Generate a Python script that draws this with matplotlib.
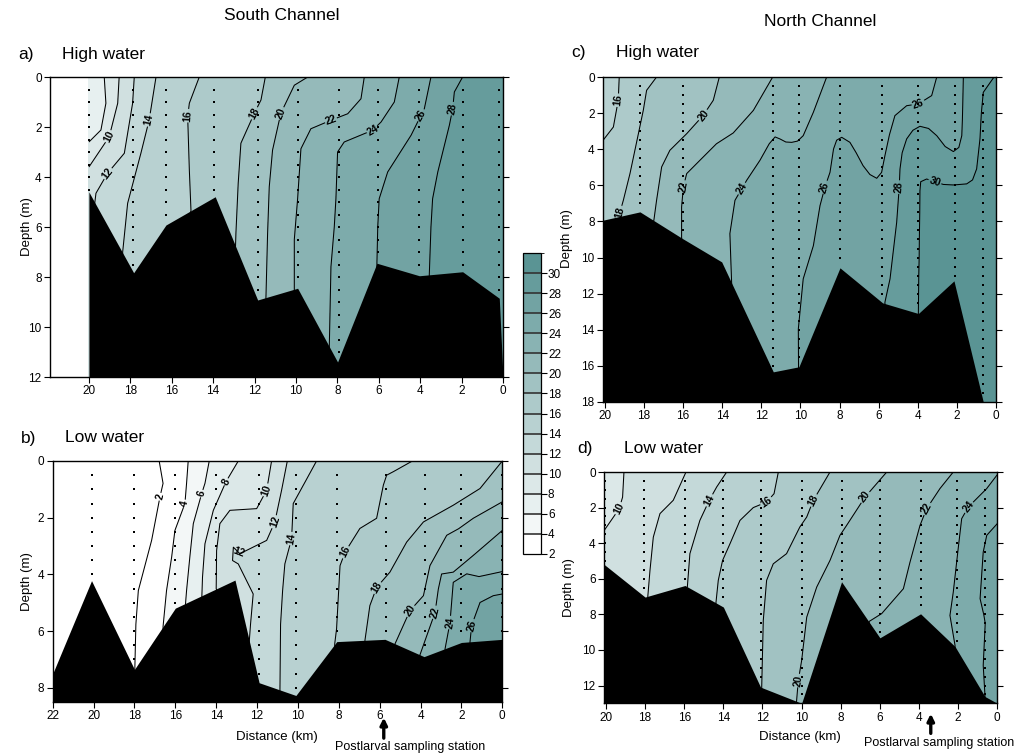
import numpy as np
import matplotlib
matplotlib.use("Agg")
import matplotlib.pyplot as plt
import matplotlib.tri as mtri
from matplotlib.colors import ListedColormap, BoundaryNorm
import matplotlib.colorbar as mcolorbar

plt.rcParams['font.family'] = ['Liberation Sans', 'DejaVu Sans']

# ---------------- DATA ----------------
# Salinity classes used by the colour key
sal_bounds = list(range(2, 34, 2))          # 2 ... 32
sal_ticks = list(range(2, 32, 2))           # 2 ... 30

# ---- a) South Channel, high water ----
a_levels = [8, 10, 12, 14, 16, 18, 20, 22, 24, 26, 28]
a_iso_x = [
    [19.26, 19.18, 19.42, 20.0],
    [18.54, 18.61, 19.02, 20.0],
    [17.81, 17.89, 18.29, 19.1, 19.66, 19.72],
    [16.76, 17.09, 17.49, 18.13, 18.37],
    [14.67, 15.15, 15.23, 15.15, 15.07],
    [11.48, 11.69, 12.01, 12.66, 12.79, 12.9, 12.92],
    [9.43, 10.08, 10.73, 11.13, 11.29, 11.37, 11.45],
    [6.7, 6.86, 7.5, 8.31, 9.28, 9.76, 9.92, 10.08, 10.08],
    [5.01, 5.25, 5.89, 6.3, 7.67, 7.99, 8.07, 8.15, 8.31, 8.39],
    [3.48, 3.8, 3.96, 4.44, 5.57, 5.98, 6.05, 6.09],
    [1.95, 2.35, 2.43, 2.59, 3.15, 3.4, 3.48, 3.56],
]
a_iso_d = [
    [0.0, 1.05, 2.12, 2.6],
    [0.0, 1.05, 2.39, 3.6],
    [0.0, 1.05, 3.05, 3.85, 4.65, 5.05],
    [0.0, 1.72, 3.05, 5.05, 7.0],
    [0.0, 1.05, 1.59, 3.72, 5.35],
    [0.0, 0.92, 1.45, 2.65, 4.25, 6.25, 6.78],
    [0.0, 0.33, 1.45, 2.92, 4.39, 6.25, 8.82],
    [0.0, 0.87, 1.47, 1.73, 2.07, 2.87, 4.87, 6.5, 8.49],
    [0.0, 1.0, 1.8, 2.13, 2.6, 3.0, 4.87, 6.0, 7.59, 10.79],
    [0.0, 1.27, 1.53, 2.33, 3.8, 4.87, 6.0, 7.45],
    [0.0, 0.6, 1.27, 1.93, 3.8, 4.87, 6.0, 7.91],
]
# extra salinity readings (section edges and between isohalines)
a_pt_x = [20.0, 20.0, 20.0, 20.0, 0.0, 0.0, 0.0, 0.0, 8.9, 8.5, 6.0, 4.8, 4.6]
a_pt_d = [0.0, 1.3, 4.6, 12.0, 0.0, 4.0, 8.0, 12.0, 1.0, 3.5, 1.0, 1.5, 4.5]
a_pt_s = [6.6, 7.2, 11.6, 11.6, 29.0, 29.2, 29.4, 29.5, 21.0, 23.0, 23.0, 25.0, 27.0]
a_bed_x = [20.0, 17.84, 16.28, 13.9, 11.85, 9.92, 7.99, 6.09, 4.04, 1.95, 0.18, 0.0]
a_bed_d = [4.6, 7.83, 5.92, 4.79, 8.92, 8.45, 11.4, 7.45, 7.95, 7.79, 8.85, 12.0]
a_stations = [19.98, 17.89, 16.28, 13.95, 11.85, 9.92, 7.91, 6.05, 4.04, 1.95, 0.18]

# ---- b) South Channel, low water ----
b_levels = [2, 4, 6, 8, 10, 12, 14, 16, 18, 20, 22, 24, 26]
b_iso_x = [
    [16.79, 16.6, 16.75, 17.16, 17.81, 17.93, 17.98],
    [15.37, 15.45, 15.53, 16.02, 16.18, 16.43, 16.6],
    [14.34, 14.55, 14.71, 15.12, 15.29, 15.45, 15.5],
    [12.92, 13.52, 14.14, 14.55, 14.67, 14.7],
    [11.29, 11.53, 12.02, 13.33, 13.82, 13.98, 14.0],
    [10.52, 10.8, 11.13, 11.53, 11.86, 12.19, 12.32, 12.38],
    [9.09, 9.62, 10.23, 10.31, 10.64, 10.75, 10.85, 10.88],
    [4.4, 5.34, 5.66, 5.82, 6.15, 6.97, 7.69, 7.94, 8.11, 8.2],
    [0.0, 1.09, 2.4, 3.86, 4.68, 5.5, 6.15, 6.48, 6.72],
    [0.0, 1.42, 2.72, 3.54, 3.86, 4.52, 5.25],
    [0.0, 1.42, 2.4, 3.29, 4.03],
    [0.0, 1.74, 2.4, 2.56, 2.8],
    [0.0, 0.44, 1.09, 1.5, 1.58],
]
b_iso_d = [
    [0.0, 0.79, 1.26, 2.8, 4.57, 5.76, 7.3],
    [0.0, 0.79, 1.5, 2.45, 3.39, 4.57, 5.84],
    [0.0, 0.79, 1.15, 2.21, 3.39, 4.57, 5.03],
    [0.0, 0.73, 1.74, 2.92, 4.1, 4.75],
    [0.0, 1.03, 1.68, 1.74, 2.21, 3.16, 4.5],
    [0.0, 1.03, 2.15, 2.8, 3.87, 4.69, 5.76, 6.35],
    [0.0, 0.7, 1.5, 2.74, 3.63, 4.57, 5.76, 8.07],
    [0.0, 0.38, 0.5, 0.85, 2.02, 2.38, 3.21, 3.69, 5.92, 6.45],
    [0.0, 0.97, 1.56, 2.15, 2.86, 3.92, 4.46, 5.1, 6.32],
    [1.44, 2.02, 2.62, 3.69, 4.75, 5.28, 6.45],
    [2.45, 3.33, 3.92, 5.34, 6.84],
    [3.9, 3.98, 4.28, 5.7, 6.62],
    [4.69, 4.75, 4.99, 5.8, 6.38],
]
b_loop_level = 12
b_loop_x = [13.16, 12.84, 12.92, 13.2]
b_loop_d = [3.04, 3.27, 3.63, 3.51]
b_pt_x = [22.0, 22.0, 20.1, 18.5, 0.0, 0.0, 13.02, 12.5, 12.6, 5.2, 6.8, 3.5, 2.0, 1.0, 0.8]
b_pt_d = [0.0, 8.5, 0.0, 0.0, 6.3, 8.5, 3.35, 0.8, 2.5, 1.5, 1.0, 1.0, 2.8, 4.45, 5.8]
b_pt_s = [0.5, 0.5, 0.8, 1.3, 27.3, 27.5, 12.6, 9.0, 11.0, 17.0, 15.5, 17.0, 21.0, 25.0, 27.0]
b_bed_x = [22.0, 20.1, 18.0, 16.0, 13.08, 11.9, 10.1, 8.1, 5.74, 3.83, 2.0, 0.0]
b_bed_d = [7.5, 4.22, 7.35, 5.19, 4.2, 7.82, 8.27, 6.37, 6.29, 6.9, 6.4, 6.29]
b_stations = [22.0, 20.1, 18.0, 16.0, 14.0, 11.9, 10.1, 8.1, 5.7, 3.8, 2.0, 0.0]

# ---- c) North Channel, high water ----
c_levels = [16, 18, 20, 22, 24, 26, 28, 30]
c_iso_x = [
    [19.27, 19.32, 19.57, 20.1],
    [17.36, 17.87, 18.04, 18.29, 18.72, 19.06, 19.3],
    [14.15, 14.46, 14.97, 15.82, 16.68, 17.1, 17.36, 17.5],
    [11.42, 12.41, 13.44, 14.3, 15.14, 15.82, 15.99, 16.08, 16.08],
    [8.66, 9.34, 9.86, 10.15, 10.45, 10.75, 11.05, 11.3, 11.6, 12.07, 12.75, 13.0,
     13.35, 13.61, 13.52],
    [3.03, 3.29, 3.97, 4.57, 5.17, 5.45, 5.68, 5.85, 6.1, 6.45, 6.8, 7.15, 7.47,
     7.89, 8.15, 8.31, 8.49, 8.75, 9.0, 9.34, 9.86, 10.11, 10.1],
    [1.67, 1.7, 1.72, 1.75, 1.9, 2.18, 2.6, 3.03, 3.45, 3.89, 4.25, 4.57, 4.8,
     4.91, 4.95, 5.08, 5.42, 5.68],
    [0.1, 0.65, 0.75, 0.82, 0.99, 1.2, 1.5, 2.18, 2.7, 3.12, 3.55, 3.85, 3.89,
     3.9, 3.92, 3.93, 3.95, 3.96, 3.97],
]
c_iso_d = [
    [0.0, 1.29, 2.77, 3.51],
    [0.0, 0.74, 1.85, 3.14, 5.35, 6.83, 7.75],
    [0.0, 1.29, 2.12, 3.14, 4.06, 4.98, 6.83, 7.95],
    [0.0, 1.85, 3.1, 3.7, 4.61, 5.35, 6.09, 7.2, 8.9],
    [0.0, 1.95, 3.25, 3.55, 3.62, 3.6, 3.43, 3.32, 3.7, 4.61, 5.72, 6.18,
     6.83, 8.67, 11.44],
    [0.0, 1.03, 1.49, 1.59, 2.14, 3.2, 4.35, 5.28, 5.61, 5.4, 4.91, 4.2, 3.62,
     3.34, 3.5, 3.99, 5.28, 6.1, 7.12, 9.34, 11.18, 13.95, 16.0],
    [0.0, 1.5, 2.4, 3.25, 3.9, 4.13, 3.85, 3.25, 2.85, 2.73, 2.95, 3.43, 4.2,
     5.09, 6.1, 8.05, 11.18, 12.47],
    [0.0, 0.85, 2.0, 3.43, 5.09, 5.7, 5.92, 5.98, 5.95, 5.79, 5.65, 5.8, 6.3,
     7.5, 8.97, 10.0, 11.0, 12.0, 13.03],
]
c_pt_x = [20.1, 20.1, 20.1, 0.0, 0.0, 0.0, 6.0,
          6.4, 6.0, 7.0, 5.6, 4.3, 2.5, 3.3, 2.3, 4.2,
          1.3, 1.4, 2.2, 3.1, 4.3, 2.5, 10.7, 10.6, 13.4, 14.0, 9.0,
          4.4, 3.4, 2.2, 6.1]
c_pt_d = [0.0, 7.9, 18.0, 0.0, 9.0, 18.0, 0.0,
          4.6, 3.2, 3.0, 1.2, 0.7, 2.5, 2.1, 1.2, 2.2,
          2.5, 4.5, 5.0, 4.5, 4.8, 7.5, 2.6, 4.6, 1.5, 6.0, 4.5,
          7.5, 7.0, 3.6, 5.1]
c_pt_s = [15.0, 17.0, 17.0, 30.1, 31.0, 31.2, 25.0,
          25.5, 25.3, 25.2, 25.2, 25.5, 27.2, 27.0, 27.3, 26.8,
          29.0, 29.2, 29.0, 28.8, 28.8, 30.6, 23.3, 24.8, 21.0, 23.0, 25.0,
          29.0, 30.5, 27.6, 25.6]
c_bed_x = [20.1, 18.21, 16.03, 14.03, 11.39, 10.08, 7.98, 5.8, 3.97, 2.15, 0.65, 0.0]
c_bed_d = [7.93, 7.47, 8.95, 10.24, 16.33, 16.05, 10.57, 12.51, 13.1, 11.29, 18.0, 18.0]
c_stations = [20.1, 18.21, 16.03, 11.42, 10.08, 7.98, 5.85, 3.97, 2.1, 0.65]

# ---- d) North Channel, low water ----
d_levels = [10, 12, 14, 16, 18, 20, 22, 24, 26]
d_iso_x = [
    [19.08, 19.15, 19.32, 19.45, 20.1],
    [15.91, 15.96, 16.56, 17.24, 17.58, 17.75, 17.86],
    [13.83, 14.34, 14.72, 15.2, 15.71, 15.84],
    [11.19, 11.41, 11.79, 12.47, 13.15, 13.66, 14.04, 14.26, 14.38],
    [8.55, 9.4, 9.74, 10.09, 10.77, 11.45, 11.79, 11.96, 12.04],
    [5.65, 6.76, 7.7, 8.04, 8.55, 9.23, 9.74, 10.0, 10.17, 10.26],
    [2.25, 2.93, 3.61, 3.95, 4.46, 4.8, 5.91, 6.55],
    [0.0, 0.54, 1.23, 1.48, 1.82, 2.0, 2.25, 2.42, 2.16],
    [0.0, 0.54, 0.72, 0.88, 0.72, 0.63],
]
d_iso_d = [
    [0.0, 1.41, 2.06, 2.72, 3.3],
    [0.0, 0.84, 1.59, 2.34, 3.66, 5.53, 6.98],
    [0.0, 0.84, 1.59, 2.72, 4.59, 6.45],
    [0.0, 1.22, 1.69, 2.0, 2.72, 4.03, 4.97, 6.09, 7.36],
    [0.0, 1.59, 2.53, 3.09, 4.59, 5.16, 6.09, 8.34, 12.1],
    [0.0, 1.41, 3.0, 3.56, 4.97, 6.47, 8.16, 10.6, 11.72, 12.89],
    [0.0, 0.93, 2.06, 3.0, 5.06, 6.56, 7.96, 8.4],
    [0.15, 0.93, 1.69, 1.97, 2.62, 4.31, 6.75, 8.06, 9.75],
    [2.9, 3.56, 4.5, 7.12, 10.87, 12.56],
]
d_pt_x = [20.1, 20.1, 20.1, 0.0, 0.0, 0.0, 12.6, 10.5, 7.5, 4.5, 1.0, 16.5]
d_pt_d = [0.0, 5.19, 13.0, 0.0, 8.0, 13.0, 1.0, 2.0, 1.0, 1.5, 3.5, 3.5]
d_pt_s = [9.0, 10.6, 10.8, 23.9, 26.8, 27.0, 15.0, 17.0, 19.0, 21.0, 25.0, 13.0]
d_bed_x = [20.1, 18.0, 15.96, 14.0, 12.1, 10.0, 7.96, 6.0, 3.92, 2.16, 0.63, 0.0]
d_bed_d = [5.19, 7.03, 6.38, 7.59, 12.09, 13.0, 6.17, 9.32, 7.97, 9.81, 12.62, 13.0]
d_stations = [20.07, 18.07, 15.97, 14.0, 12.1, 10.0, 7.96, 6.0, 3.92, 2.04, 0.63]

# ---------------- STYLE ----------------
W, H = 1016, 755
fig = plt.figure(figsize=(W / 100, H / 100), dpi=100)

def rect(l, t, r, b):
    return [l / W, 1 - b / H, (r - l) / W, (b - t) / H]

c_lo = np.array([255, 255, 255]) / 255
c_hi = np.array([90, 148, 148]) / 255
band_colors = [tuple(c_lo + (c_hi - c_lo) * t) for t in np.linspace(0, 1, len(sal_bounds) - 1)]
fill_levels = [-100] + sal_bounds
fill_colors = ['white'] + band_colors

TICK_FS = 8.5
LAB_FS = 7.5


def section(ax, levs, ix, idp, ex, ed, es, bx, bd, stations, x_left, ymax,
            xticks, yticks, lab_pos, loop=None, loop_lab=None):
    xs, ds, ss = [], [], []
    for lev, xx, dd in zip(levs, ix, idp):
        xs += list(xx); ds += list(dd); ss += [lev] * len(xx)
        # isohaline continued straight down beneath the (hidden) seabed
        if dd[-1] < ymax - 1e-6 and 0.05 < xx[-1] < x_left - 0.05:
            xs.append(xx[-1]); ds.append(ymax); ss.append(lev)
    if loop is not None:
        lev, lx, ld = loop
        xs += list(lx); ds += list(ld); ss += [lev] * len(lx)
    xs += list(ex); ds += list(ed); ss += list(es)
    tri = mtri.Triangulation(np.array(xs), np.array(ds))
    ss = np.array(ss, dtype=float)
    ax.tricontourf(tri, ss, levels=fill_levels, colors=fill_colors, zorder=1)
    cs = ax.tricontour(tri, ss, levels=sorted(set(levs)), colors='k',
                       linewidths=0.75, zorder=2)
    texts = ax.clabel(cs, manual=lab_pos, inline=True, inline_spacing=1,
                      fontsize=LAB_FS, fmt='%d')
    for t in texts:
        t.set_fontweight('bold')
        t.set_zorder(4)
    if loop_lab is not None:
        t2 = ax.clabel(cs, manual=loop_lab, inline=False, fontsize=LAB_FS, fmt='%d')
        for t in t2:
            t.set_fontweight('bold'); t.set_zorder(4)
    # sampling points
    bxr = np.array(bx)[::-1]; bdr = np.array(bd)[::-1]
    for sx in stations:
        zmax = np.interp(sx, bxr, bdr)
        zz = np.arange(0.5, zmax - 0.1, 0.5)
        ax.scatter(np.full_like(zz, sx), zz, s=2.0, marker='s', c='k',
                   linewidths=0, zorder=2.2)
    # seabed
    ax.fill_between(bx, bd, ymax, color='black', linewidth=0, zorder=2.5)
    ax.set_ylim(ymax, 0)
    ax.set_xticks(xticks)
    ax.set_yticks(yticks)
    ax.tick_params(axis='both', direction='out', length=4, width=0.8,
                   labelsize=TICK_FS, pad=2)
    ax.tick_params(axis='y', right=True)
    for s in ax.spines.values():
        s.set_linewidth(1.0)
        s.set_zorder(5)


# a
ax_a = fig.add_axes(rect(50, 77, 503, 377))
section(ax_a, a_levels, a_iso_x, a_iso_d, a_pt_x, a_pt_d, a_pt_s,
        a_bed_x, a_bed_d, a_stations, 20.0, 12.0,
        list(range(0, 21, 2)), list(range(0, 13, 2)),
        [(19.02, 2.39), (19.1, 3.85), (17.09, 1.72), (15.2, 1.55), (12.01, 1.45),
         (10.73, 1.45), (8.31, 1.73), (6.3, 2.13), (3.96, 1.53), (2.43, 1.27)])
ax_a.set_xlim(21.88, 0)

# b
ax_b = fig.add_axes(rect(52.7, 461, 502.3, 702))
section(ax_b, b_levels, b_iso_x, b_iso_d, b_pt_x, b_pt_d, b_pt_s,
        b_bed_x, b_bed_d, b_stations, 22.0, 8.5,
        list(range(0, 23, 2)), list(range(0, 9, 2)),
        [(16.75, 1.26), (15.53, 1.5), (14.71, 1.15), (13.52, 0.73), (11.53, 1.03),
         (11.13, 2.15), (10.31, 2.74), (7.69, 3.21), (6.15, 4.46), (4.52, 5.28),
         (3.29, 5.34), (2.56, 5.7), (1.5, 5.8)],
        loop=(b_loop_level, b_loop_x, b_loop_d), loop_lab=[(13.0, 3.3)])
ax_b.set_xlim(22, 0)

# c
ax_c = fig.add_axes(rect(603, 77, 996, 402))
section(ax_c, c_levels, c_iso_x, c_iso_d, c_pt_x, c_pt_d, c_pt_s,
        c_bed_x, c_bed_d, c_stations, 20.1, 18.0,
        list(range(0, 21, 2)), list(range(0, 19, 2)),
        [(19.32, 1.29), (19.23, 7.5), (14.97, 2.12), (15.99, 6.09), (13.0, 6.18),
         (8.75, 6.1), (3.97, 1.49), (4.95, 6.1), (3.12, 5.79)])
ax_c.set_xlim(20.1, 0)

# d
ax_d = fig.add_axes(rect(604, 472, 997.3, 703.3))
section(ax_d, d_levels, d_iso_x, d_iso_d, d_pt_x, d_pt_d, d_pt_s,
        d_bed_x, d_bed_d, d_stations, 20.1, 13.0,
        list(range(0, 21, 2)), list(range(0, 13, 2)),
        [(19.32, 2.06), (14.72, 1.59), (11.79, 1.69), (9.4, 1.59), (6.76, 1.41),
         (10.17, 11.72), (3.61, 2.06), (1.48, 1.97)])
ax_d.set_xlim(20.1, 0)

# colour key
ax_cb = fig.add_axes(rect(523, 253, 541, 554))
cb = mcolorbar.ColorbarBase(ax_cb, cmap=ListedColormap(band_colors),
                            norm=BoundaryNorm(sal_bounds, len(band_colors)),
                            boundaries=sal_bounds, ticks=sal_ticks,
                            drawedges=True, orientation='vertical')
cb.dividers.set_color('#333333')
cb.dividers.set_linewidth(1.2)
cb.outline.set_linewidth(0.9)
ax_cb.tick_params(labelsize=TICK_FS, length=4, width=0.8, pad=1)

# texts
def ftext(x, y, s, **kw):
    fig.text(x / W, 1 - y / H, s, **kw)

ftext(282, 15, 'South Channel', fontsize=12.5, ha='center', va='center')
ftext(820, 22, 'North Channel', fontsize=12.5, ha='center', va='center')
ftext(18, 55, 'a)', fontsize=12.5, ha='left', va='center')
ftext(62, 55, 'High water', fontsize=12.5, ha='left', va='center')
ftext(21, 438, 'b)', fontsize=12.5, ha='left', va='center')
ftext(65, 438, 'Low water', fontsize=12.5, ha='left', va='center')
ftext(571, 53, 'c)', fontsize=12.5, ha='left', va='center')
ftext(616, 53, 'High water', fontsize=12.5, ha='left', va='center')
ftext(577, 448, 'd)', fontsize=12.5, ha='left', va='center')
ftext(624, 448, 'Low water', fontsize=12.5, ha='left', va='center')
for (x, y) in [(27, 227), (27, 582), (567, 239), (569, 588)]:
    ftext(x, y, 'Depth (m)', fontsize=9.5, rotation=90, ha='center', va='center')
ftext(277, 737, 'Distance (km)', fontsize=9.5, ha='center', va='center')
ftext(800, 737, 'Distance (km)', fontsize=9.5, ha='center', va='center')
ftext(410, 747, 'Postlarval sampling station', fontsize=9, ha='center', va='center')
ftext(939, 743, 'Postlarval sampling station', fontsize=9, ha='center', va='center')

arrow = dict(arrowstyle='-|>', lw=2.4, color='k', mutation_scale=10, shrinkA=0, shrinkB=0)
ax_b.annotate('', xy=(5.8, -0.065), xytext=(5.8, -0.15),
              xycoords=ax_b.get_xaxis_transform(), textcoords=ax_b.get_xaxis_transform(),
              arrowprops=arrow, annotation_clip=False)
ax_d.annotate('', xy=(3.4, -0.045), xytext=(3.4, -0.13),
              xycoords=ax_d.get_xaxis_transform(), textcoords=ax_d.get_xaxis_transform(),
              arrowprops=arrow, annotation_clip=False)

fig.savefig('out.png', dpi=100)
